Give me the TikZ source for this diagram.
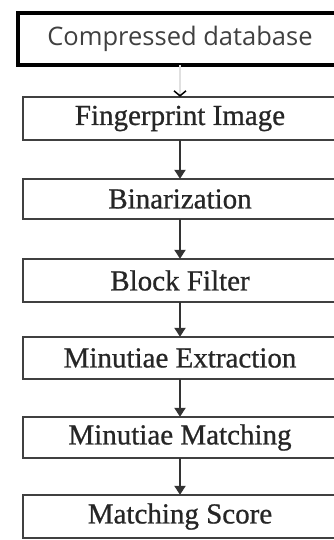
\documentclass[tikz,border=0pt]{standalone}
\usepackage{fontspec}
\setmainfont{Liberation Serif}
\newfontfamily\stagefont{Liberation Serif}[FakeBold=0.8]
\newfontfamily\labelsans{Open Sans}
\usetikzlibrary{arrows.meta}

\tikzset{
  stage/.style={minimum width=314pt, inner sep=0pt,
    font=\stagefont\fontsize{29}{32}\selectfont, text=black!85},
  frame/.style={draw=black!75, line width=2.4pt},
  flow/.style={-{Triangle[width=11pt,length=9pt]}, line width=2.6pt,
    draw=black!80},
}

\begin{document}
\begin{tikzpicture}[x=1pt, y=-1pt]

  \useasboundingbox (0,0) rectangle (334,540);
  \clip (0,0) rectangle (334,540);
  \def\midx{180}

  % source
  \node [stage, minimum width=324pt, minimum height=52pt,
         font=\labelsans\fontsize{25.5}{29}\selectfont, text=black!75]
        (db) at (\midx, 39) {Compressed database};

  % pipeline
  \node [stage, minimum height=43pt] (fp)  at (\midx, 118.5) {Fingerprint Image};
  \node [stage, minimum height=40pt] (bin) at (\midx, 199)   {Binarization};
  \node [stage, minimum height=43pt] (blk) at (\midx, 280.5) {Block Filter};
  \node [stage, minimum height=42pt] (ext) at (\midx, 358)   {Minutiae Extraction};
  \node [stage, minimum height=41pt] (mat) at (\midx, 437.5) {Minutiae Matching};
  \node [stage, minimum height=43pt] (sc)  at (\midx, 516.5) {Matching Score};

  % boxes run off the right edge
  \draw [frame, draw=black, line width=3.8pt]
        (db.north west) rectangle ([xshift=30pt]db.south east);
  \foreach \n in {fp, bin, blk, ext, mat, sc}
    \draw [frame] (\n.north west) rectangle ([xshift=30pt]\n.south east);

  \draw [-{Straight Barb[color=black,length=5pt,width=12pt]}, line width=1.5pt,
         draw=black!12] (db) -- (fp);
  \draw [flow] (fp)  -- (bin);
  \draw [flow] (bin) -- (blk);
  \draw [flow] (blk) -- (ext);
  \draw [flow] (ext) -- (mat);
  \draw [flow] (mat) -- (sc);

\end{tikzpicture}
\end{document}
